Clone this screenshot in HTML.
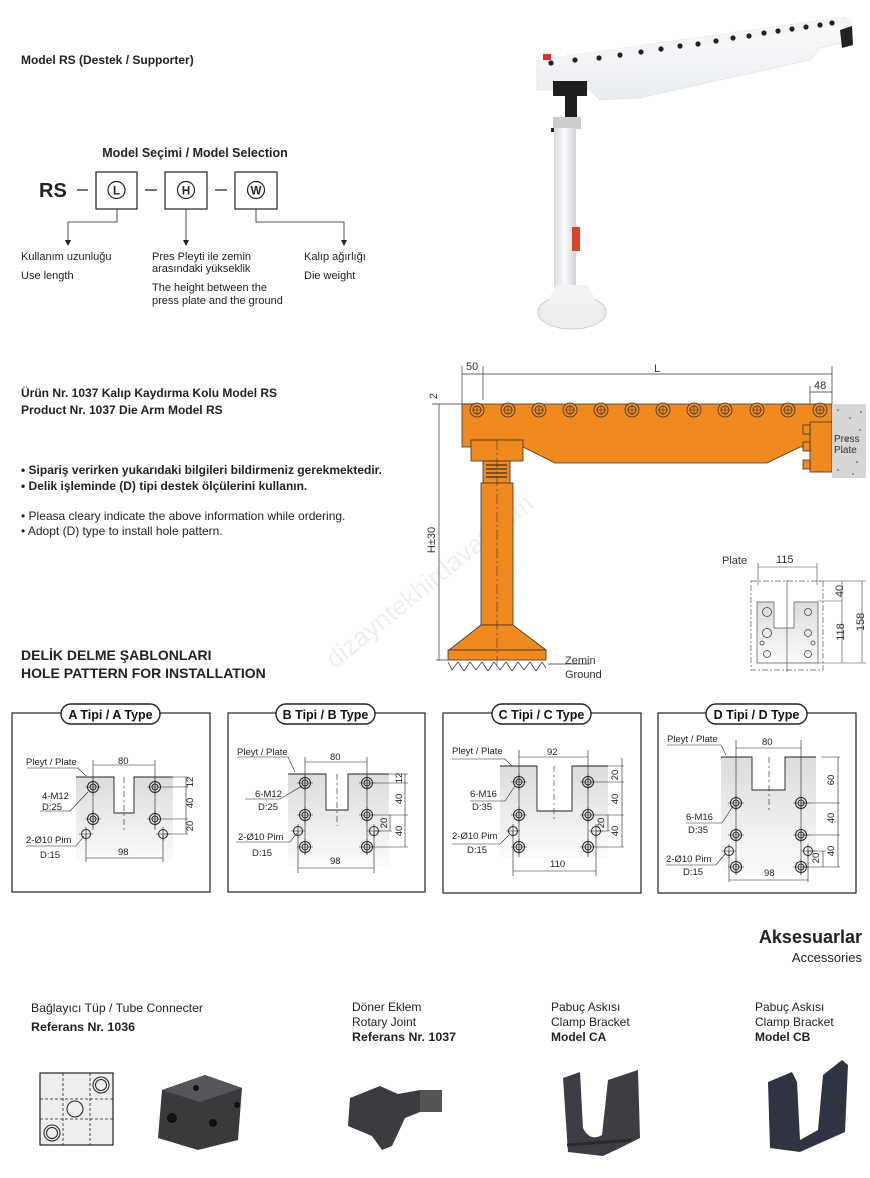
<!DOCTYPE html>
<html><head><meta charset="utf-8"><style>
body{margin:0;background:#fff}
svg{display:block;font-family:"Liberation Sans",sans-serif}
.n{font-family:"Liberation Sans Narrow","Liberation Sans",sans-serif}
</style></head><body>
<svg width="870" height="1178" viewBox="0 0 870 1178" xmlns="http://www.w3.org/2000/svg">
<defs>
<linearGradient id="pg" x1="0" y1="0" x2="0" y2="1"><stop offset="0" stop-color="#dcdcdc"/><stop offset="1" stop-color="#fbfbfb"/></linearGradient>
<linearGradient id="pole" x1="0" y1="0" x2="1" y2="0"><stop offset="0" stop-color="#d8dbe0"/><stop offset=".5" stop-color="#fafafa"/><stop offset="1" stop-color="#cfd2d8"/></linearGradient>
<linearGradient id="beam" x1="0" y1="0" x2="0" y2="1"><stop offset="0" stop-color="#fbfbfb"/><stop offset="1" stop-color="#e9ecf0"/></linearGradient>
<g id="h"><circle r="5.5" fill="none" stroke="#222" stroke-width="1"/><circle r="3" fill="none" stroke="#222" stroke-width="1"/><path d="M-8 0H8M0-8V8" stroke="#222" stroke-width=".6"/></g>
<g id="p"><circle r="4.5" fill="none" stroke="#222" stroke-width="1"/><path d="M-7 0H7M0-7V7" stroke="#222" stroke-width=".6"/></g>
<g id="oh"><circle r="7" fill="#f08a1e" stroke="#333" stroke-width=".8"/><circle r="4" fill="none" stroke="#333" stroke-width=".8"/><path d="M-5 0H5M0-5V5" stroke="#333" stroke-width=".6"/></g>
</defs>

<!-- watermark -->
<text font-size="26" fill="#efefef" text-anchor="middle" transform="translate(435,588) rotate(-39)">dizayntekhirdavat.com</text>

<!-- header -->
<text x="21" y="64" font-size="12" font-weight="bold" fill="#222">Model RS (Destek / Supporter)</text>
<text x="195" y="157" font-size="12.5" font-weight="bold" text-anchor="middle" fill="#222">Model Seçimi / Model Selection</text>
<text x="39" y="197" font-size="20" font-weight="bold" fill="#222">RS</text>
<g stroke="#222" stroke-width="1.2" fill="none">
<path d="M77 190H88M145 190H157M215 190H227"/>
<rect x="96" y="172" width="41" height="37"/><rect x="165" y="172" width="42" height="37"/><rect x="235" y="172" width="42" height="37"/>
<circle cx="116.5" cy="190" r="8.5"/><circle cx="186" cy="190" r="8.5"/><circle cx="256" cy="190" r="8.5"/>
<path d="M117 209V222H68V242M186 209V242M256 209V222H344V242" stroke-width=".8"/>
</g>
<path d="M65 240L68 246L71 240zM183 240L186 246L189 240zM341 240L344 246L347 240z" fill="#222"/>
<g font-size="11.5" font-weight="bold" text-anchor="middle" fill="#222"><text x="116.5" y="194.5">L</text><text x="186" y="194.5">H</text><text x="256" y="194.5">W</text></g>
<g font-size="11" fill="#222">
<text x="21" y="260">Kullanım uzunluğu</text><text x="21" y="279">Use length</text>
<text x="152" y="260">Pres Pleyti ile zemin</text><text x="152" y="272">arasındaki yükseklik</text>
<text x="152" y="291">The height between the</text><text x="152" y="304">press plate and the ground</text>
<text x="304" y="260">Kalıp ağırlığı</text><text x="304" y="279">Die weight</text>
</g>

<!-- photo -->
<path d="M537 60L845 17L852 24L852 40L820 48L810 60L640 98L600 100L590 90L537 90Z" fill="url(#beam)" stroke="#ddd" stroke-width=".6"/>
<path d="M537 60L845 17L852 24L540 68Z" fill="#f4f4f4"/>
<g fill="#222"><circle cx="551" cy="63" r="2.6"/><circle cx="575" cy="60" r="2.6"/><circle cx="599" cy="58" r="2.6"/><circle cx="620" cy="55" r="2.6"/><circle cx="641" cy="52" r="2.6"/><circle cx="661" cy="49" r="2.6"/><circle cx="680" cy="46" r="2.6"/><circle cx="698" cy="44" r="2.6"/><circle cx="716" cy="41" r="2.6"/><circle cx="733" cy="38" r="2.6"/><circle cx="749" cy="36" r="2.6"/><circle cx="764" cy="33" r="2.6"/><circle cx="778" cy="31" r="2.6"/><circle cx="792" cy="29" r="2.6"/><circle cx="806" cy="27" r="2.6"/><circle cx="820" cy="25" r="2.6"/><circle cx="832" cy="23" r="2.6"/></g>
<path d="M840 30L852 26L853 45L842 48Z" fill="#222"/>
<rect x="543" y="54" width="8" height="6" fill="#d33"/>
<rect x="553" y="81" width="34" height="15" fill="#1e1e1e"/><rect x="565" y="96" width="12" height="22" fill="#1e1e1e"/>
<rect x="553" y="117" width="28" height="12" fill="#ccc"/><rect x="551" y="128" width="14" height="4" fill="#222"/>
<rect x="554" y="128" width="22" height="165" fill="url(#pole)"/>
<rect x="572" y="227" width="8" height="24" fill="#d9442a"/>
<ellipse cx="572" cy="312" rx="34" ry="17" fill="#eee" stroke="#ccc"/>
<path d="M556 285L588 285L598 305L546 305Z" fill="#f2f2f2"/>

<!-- text block -->
<g font-size="12" font-weight="bold" fill="#222"><text x="21" y="397">Ürün Nr. 1037 Kalıp Kaydırma Kolu Model RS</text><text x="21" y="414">Product Nr. 1037 Die Arm Model RS</text>
<text x="21" y="474">• Sipariş verirken yukarıdaki bilgileri bildirmeniz gerekmektedir.</text><text x="21" y="490">• Delik işleminde (D) tipi destek ölçülerini kullanın.</text></g>
<g font-size="12" fill="#222"><text x="21" y="520">• Pleasa cleary indicate the above information while ordering.</text><text x="21" y="535">• Adopt (D) type to install hole pattern.</text></g>
<g font-size="14" font-weight="bold" fill="#222"><text x="21" y="660">DELİK DELME ŞABLONLARI</text><text x="21" y="678">HOLE PATTERN FOR INSTALLATION</text></g>

<!-- orange drawing -->
<g stroke="#333" stroke-width=".8">
<path d="M462 404H832V447H800L767 463H555L523 447H462Z" fill="#f08a1e"/>
<rect x="471" y="440" width="52" height="21" fill="#f08a1e"/>
<rect x="483" y="461" width="27" height="22" fill="#f08a1e"/>
<path d="M486 465H507M486 469H507M486 473H507M486 477H507" stroke-width="1.2"/>
<rect x="481" y="483" width="32" height="142" fill="#f08a1e"/>
<path d="M481 625L449 650H546L513 625Z" fill="#f08a1e"/>
<rect x="448" y="650" width="98" height="10" fill="#f08a1e"/>
<rect x="810" y="422" width="22" height="50" fill="#f08a1e"/>
<rect x="803" y="425" width="7" height="9" fill="#f08a1e"/><rect x="803" y="442" width="7" height="9" fill="#f08a1e"/><rect x="803" y="460" width="7" height="9" fill="#f08a1e"/>
</g>
<path d="M497 440V670" stroke="#333" stroke-width=".6" stroke-dasharray="10 3 2 3"/>
<rect x="832" y="404" width="34" height="74" fill="#d6d6d6"/>
<g fill="#444"><circle cx="838" cy="410" r=".8"/><circle cx="850" cy="418" r=".8"/><circle cx="860" cy="430" r=".8"/><circle cx="842" cy="452" r=".8"/><circle cx="857" cy="462" r=".8"/><circle cx="838" cy="470" r=".8"/><circle cx="861" cy="412" r=".8"/><circle cx="847" cy="440" r=".8"/><circle cx="853" cy="474" r=".8"/></g>
<text x="834" y="442" font-size="10" fill="#333">Press</text><text x="834" y="453" font-size="10" fill="#333">Plate</text>
<path d="M448 662L452 670L458 662L464 671L470 662L476 670L482 662L488 671L494 662L500 670L506 662L512 671L518 662L524 670L530 662L536 671L542 662L546 668" stroke="#444" fill="none" stroke-width=".8"/>
<use href="#oh" x="477" y="410"/>
<use href="#oh" x="508" y="410"/><use href="#oh" x="539" y="410"/><use href="#oh" x="570" y="410"/><use href="#oh" x="601" y="410"/><use href="#oh" x="632" y="410"/><use href="#oh" x="663" y="410"/><use href="#oh" x="694" y="410"/><use href="#oh" x="725" y="410"/><use href="#oh" x="757" y="410"/><use href="#oh" x="788" y="410"/><use href="#oh" x="820" y="410"/>
<g stroke="#333" stroke-width=".7" fill="none">
<path d="M462 366V404M483 366V400M832 366V404M810 386V404M462 374H832M810 392H832M432 404H475M436 660H448M439 404V660"/>
</g>
<g font-size="11" fill="#333"><text x="466" y="370">50</text><text x="654" y="372">L</text><text x="814" y="389">48</text>
<text text-anchor="middle" transform="translate(437,396) rotate(-90)">2</text>
<text text-anchor="middle" transform="translate(435,540) rotate(-90)">H±30</text>
<text x="565" y="664">Zemin</text><text x="565" y="678">Ground</text></g>
<path d="M548 664H590" stroke="#333" stroke-width=".7"/>
<!-- small plate -->
<rect x="751" y="581" width="72" height="89" fill="none" stroke="#555" stroke-dasharray="6 2 2 2" stroke-width=".7"/>
<path d="M757 602H774V628H794V602H818V663H757Z" fill="url(#pg)" stroke="#555" stroke-width=".7"/>
<g fill="none" stroke="#444" stroke-width=".8"><circle cx="767" cy="612" r="4.5"/><circle cx="808" cy="612" r="3.5"/><circle cx="767" cy="633" r="4.5"/><circle cx="808" cy="633" r="3.5"/><circle cx="762" cy="643" r="2"/><circle cx="813" cy="643" r="2"/><circle cx="767" cy="654" r="3.5"/><circle cx="808" cy="654" r="3.5"/></g>
<g stroke="#444" stroke-width=".6" fill="none"><path d="M758 567H817M758 563V585M817 563V585M787 580V672M818 581H866M818 601H842M818 663H866M842 581V663M862 581V663"/></g>
<g font-size="11" fill="#333"><text x="722" y="564">Plate</text><text x="776" y="563">115</text>
<text text-anchor="middle" transform="translate(843,591) rotate(-90)">40</text><text text-anchor="middle" transform="translate(844,632) rotate(-90)">118</text><text text-anchor="middle" transform="translate(864,622) rotate(-90)">158</text></g>

<!-- pattern boxes -->
<g fill="none" stroke="#222" stroke-width="1.2">
<rect x="12" y="713" width="198" height="179"/><rect x="228" y="713" width="197" height="179"/><rect x="443" y="713" width="198" height="180"/><rect x="658" y="713" width="198" height="180"/>
</g>
<g fill="#fff" stroke="#222" stroke-width="1.4">
<rect x="61" y="704" width="99" height="20" rx="10"/><rect x="276" y="704" width="99" height="20" rx="10"/><rect x="492" y="704" width="99" height="20" rx="10"/><rect x="706" y="704" width="101" height="20" rx="10"/>
</g>
<g font-size="12.5" font-weight="bold" text-anchor="middle" fill="#111"><text x="110.5" y="719">A Tipi / A Type</text><text x="325.5" y="719">B Tipi / B Type</text><text x="541.5" y="719">C Tipi / C Type</text><text x="756.5" y="719">D Tipi / D Type</text></g>

<g font-size="9.5" fill="#222">
<!-- A -->
<rect x="76" y="777" width="97" height="84" fill="url(#pg)"/>
<path d="M76 777H114V813H134V777H173" fill="#fff" stroke="#222" stroke-width=".9"/>
<path d="M124 777V832" stroke="#222" stroke-width=".6" stroke-dasharray="6 3 2 3"/>
<use href="#h" x="93" y="787"/><use href="#h" x="155" y="787"/><use href="#h" x="93" y="819"/><use href="#h" x="155" y="819"/><use href="#p" x="86" y="834"/><use href="#p" x="163" y="834"/>
<g stroke="#222" stroke-width=".6" fill="none"><path d="M93 760V830M155 760V830M93 765H155M86 834V862M163 834V862M86 858H163M155 777H188M163 787H188M163 819H188M163 834H188M186 777V834M27 768H78L86 776M40 811H70L88 792M26 846H76L84 836"/></g>
<text x="118" y="764">80</text><text x="118" y="855">98</text>
<text text-anchor="middle" transform="translate(193,782) rotate(-90)">12</text><text text-anchor="middle" transform="translate(193,803) rotate(-90)">40</text><text text-anchor="middle" transform="translate(193,826) rotate(-90)">20</text>
<text x="26" y="765">Pleyt / Plate</text><text x="42" y="799">4-M12</text><text x="42" y="810">D:25</text><text x="26" y="843">2-Ø10 Pim</text><text x="40" y="858">D:15</text>
<!-- B -->
<rect x="288" y="774" width="101" height="92" fill="url(#pg)"/>
<path d="M288 774H326V810H348V774H389" fill="#fff" stroke="#222" stroke-width=".9"/>
<path d="M337 774V826" stroke="#222" stroke-width=".6" stroke-dasharray="6 3 2 3"/>
<use href="#h" x="305" y="783"/><use href="#h" x="367" y="783"/><use href="#h" x="305" y="815"/><use href="#h" x="367" y="815"/><use href="#h" x="305" y="847"/><use href="#h" x="367" y="847"/><use href="#p" x="298" y="831"/><use href="#p" x="374" y="831"/>
<g stroke="#222" stroke-width=".6" fill="none"><path d="M305 757V855M367 757V855M305 762H367M298 831V873M374 831V873M298 868H374M389 774H408M374 783H408M374 815H408M374 831H392M374 847H408M405 774V847M390 815V831M237 757H288L295 772M245 799H280L302 786M236 842H290L297 833"/></g>
<text x="330" y="760">80</text><text x="330" y="864">98</text>
<text text-anchor="middle" transform="translate(402,778) rotate(-90)">12</text><text text-anchor="middle" transform="translate(402,799) rotate(-90)">40</text><text text-anchor="middle" transform="translate(387,823) rotate(-90)">20</text><text text-anchor="middle" transform="translate(402,831) rotate(-90)">40</text>
<text x="237" y="755">Pleyt / Plate</text><text x="255" y="797">6-M12</text><text x="258" y="810">D:25</text><text x="238" y="840">2-Ø10 Pim</text><text x="252" y="856">D:15</text>
<!-- C -->
<rect x="500" y="766" width="108" height="92" fill="url(#pg)"/>
<path d="M500 766H537V811H572V766H608" fill="#fff" stroke="#222" stroke-width=".9"/>
<path d="M554 766V822" stroke="#222" stroke-width=".6" stroke-dasharray="6 3 2 3"/>
<use href="#h" x="519" y="782"/><use href="#h" x="588" y="782"/><use href="#h" x="519" y="815"/><use href="#h" x="588" y="815"/><use href="#h" x="519" y="847"/><use href="#h" x="588" y="847"/><use href="#p" x="513" y="831"/><use href="#p" x="596" y="831"/>
<g stroke="#222" stroke-width=".6" fill="none"><path d="M519 750V857M588 750V857M519 757H588M513 831V876M596 831V876M513 871H596M608 766H624M596 782H624M596 815H624M596 831H610M596 847H624M622 758V847M608 815V831M452 759H505L512 766M470 801H505L515 786M452 844H500L509 835"/></g>
<text x="547" y="755">92</text><text x="550" y="867">110</text>
<text text-anchor="middle" transform="translate(618,775) rotate(-90)">20</text><text text-anchor="middle" transform="translate(618,799) rotate(-90)">40</text><text text-anchor="middle" transform="translate(604,823) rotate(-90)">20</text><text text-anchor="middle" transform="translate(618,831) rotate(-90)">40</text>
<text x="452" y="754">Pleyt / Plate</text><text x="470" y="797">6-M16</text><text x="472" y="810">D:35</text><text x="452" y="839">2-Ø10 Pim</text><text x="467" y="853">D:15</text>
<!-- D -->
<rect x="721" y="757" width="95" height="116" fill="url(#pg)"/>
<path d="M721 757H752V790H785V757H816" fill="#fff" stroke="#222" stroke-width=".9"/>
<path d="M769 757V810" stroke="#222" stroke-width=".6" stroke-dasharray="6 3 2 3"/>
<use href="#h" x="736" y="803"/><use href="#h" x="801" y="803"/><use href="#h" x="736" y="835"/><use href="#h" x="801" y="835"/><use href="#h" x="736" y="867"/><use href="#h" x="801" y="867"/><use href="#p" x="729" y="851"/><use href="#p" x="808" y="851"/>
<g stroke="#222" stroke-width=".6" fill="none"><path d="M736 740V875M801 740V875M736 748H801M729 851V882M808 851V882M729 880H808M821 757H840M801 803H840M801 835H840M808 851H826M801 867H840M838 757V867M823 851V867M667 745H721L726 755M686 823H722L733 806M666 865H716L726 853"/></g>
<text x="762" y="745">80</text><text x="764" y="876">98</text>
<text text-anchor="middle" transform="translate(834,780) rotate(-90)">60</text><text text-anchor="middle" transform="translate(834,818) rotate(-90)">40</text><text text-anchor="middle" transform="translate(819,858) rotate(-90)">20</text><text text-anchor="middle" transform="translate(834,851) rotate(-90)">40</text>
<text x="667" y="742">Pleyt / Plate</text><text x="686" y="820">6-M16</text><text x="688" y="833">D:35</text><text x="666" y="862">2-Ø10 Pim</text><text x="683" y="875">D:15</text>
</g>

<!-- accessories -->
<text x="862" y="943" font-size="18" font-weight="bold" text-anchor="end" fill="#222">Aksesuarlar</text>
<text x="862" y="962" font-size="13" text-anchor="end" fill="#222">Accessories</text>
<g class="n" font-size="12" fill="#222">
<text x="31" y="1012" textLength="172" lengthAdjust="spacingAndGlyphs">Bağlayıcı Tüp / Tube Connecter</text><text x="31" y="1031" font-weight="bold" textLength="104" lengthAdjust="spacingAndGlyphs">Referans Nr. 1036</text>
<text x="352" y="1011">Döner Eklem</text><text x="352" y="1026">Rotary Joint</text><text x="352" y="1041" font-weight="bold" textLength="104" lengthAdjust="spacingAndGlyphs">Referans Nr. 1037</text>
<text x="551" y="1011">Pabuç Askısı</text><text x="551" y="1026">Clamp Bracket</text><text x="551" y="1041" font-weight="bold">Model CA</text>
<text x="755" y="1011">Pabuç Askısı</text><text x="755" y="1026">Clamp Bracket</text><text x="755" y="1041" font-weight="bold">Model CB</text>
</g>
<rect x="40" y="1073" width="73" height="72" fill="#eee" stroke="#222" stroke-width="1.2"/>
<g stroke="#222" stroke-width=".8" fill="none" stroke-dasharray="3 2"><path d="M63 1073V1145M90 1073V1145M40 1099H113M40 1119H113"/></g>
<g stroke="#222" fill="none" stroke-width="1"><circle cx="101" cy="1085" r="8"/><circle cx="101" cy="1085" r="5.5"/><circle cx="75" cy="1109" r="8"/><circle cx="52" cy="1133" r="8"/><circle cx="52" cy="1133" r="5.5"/></g>
<path d="M162 1090L205 1075L242 1088L238 1140L198 1150L158 1138Z" fill="#3a3a3d"/>
<path d="M162 1090L205 1075L242 1088L200 1102Z" fill="#55565a"/>
<g fill="#111"><circle cx="196" cy="1088" r="3"/><circle cx="172" cy="1118" r="5"/><circle cx="213" cy="1123" r="4"/><circle cx="237" cy="1105" r="3"/></g>
<path d="M350 1098L380 1086L398 1094L420 1090L435 1092L440 1108L420 1112L405 1118L392 1146L382 1150L372 1136L348 1126Z" fill="#3c3c40"/>
<rect x="420" y="1090" width="22" height="22" fill="#555"/>
<path d="M563 1078L580 1072L583 1128Q590 1142 602 1135L608 1080L638 1070L640 1138L620 1148L603 1156L568 1152Z" fill="#3d3e44"/>
<path d="M567 1145L632 1140" stroke="#2a2a2e" stroke-width="3"/>
<path d="M768 1082L792 1072L797 1082L800 1140L818 1130L823 1075L842 1060L848 1065L845 1132L800 1152L770 1148Z" fill="#2f3442"/>
</svg>
</body></html>
